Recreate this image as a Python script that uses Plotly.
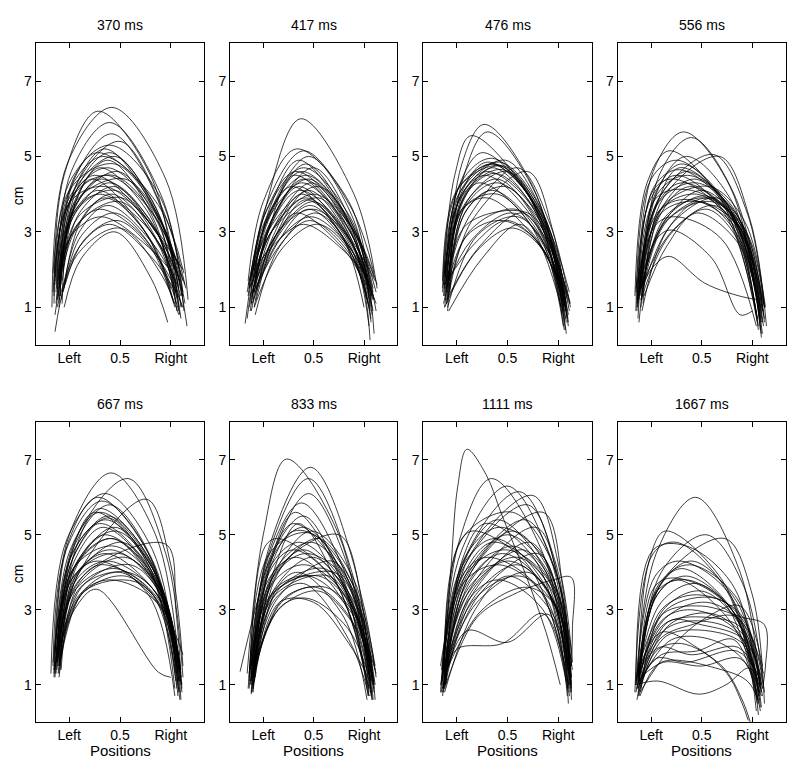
import plotly.graph_objects as go

# ---------------- data ----------------
TITLES = ["370 ms", "417 ms", "476 ms", "556 ms", "667 ms", "833 ms", "1111 ms", "1667 ms"]
XTICK_VALS = [0, 0.5, 1]
XTICK_TEXT = ["Left", "0.5", "Right"]
YTICK_VALS = [1, 3, 5, 7]
X_RANGE = [-0.33, 1.33]
Y_RANGE = [0, 8]

# each curve: flat list x0,y0, x1,y1, ... (start, rise, peak, fall, end)
P370 = [
    [-0.17,1.0, -0.02,4.8, 0.42,6.3, 0.95,4.4, 1.17,1.2],
    [-0.15,1.3, -0.05,4.5, 0.28,6.2, 0.80,4.5, 1.08,1.0],
    [-0.12,1.5, 0.02,4.6, 0.40,5.9, 0.90,4.0, 1.12,1.4],
    [-0.10,1.8, 0.05,4.4, 0.42,5.6, 0.88,3.8, 1.10,1.0],
    [-0.08,1.6, 0.08,4.3, 0.50,5.4, 0.92,3.6, 1.14,1.6],
    [-0.12,1.2, 0.03,4.0, 0.35,5.2, 0.85,3.5, 1.06,0.9],
    [-0.14,1.6, 0.00,3.9, 0.45,5.0, 0.90,3.3, 1.12,1.7],
    [-0.10,1.0, 0.05,3.8, 0.38,4.9, 0.82,3.4, 1.05,1.1],
    [-0.06,2.0, 0.08,3.9, 0.30,4.7, 0.78,3.5, 1.04,1.3],
    [-0.16,1.4, -0.03,3.6, 0.25,4.5, 0.80,3.2, 1.08,1.8],
    [-0.11,1.9, 0.02,3.5, 0.22,4.4, 0.75,3.0, 1.02,1.2],
    [-0.09,1.3, 0.06,3.7, 0.48,4.6, 0.93,3.0, 1.15,1.5],
    [-0.13,1.1, 0.04,3.4, 0.40,4.3, 0.86,3.0, 1.09,0.8],
    [-0.07,1.7, 0.10,3.5, 0.45,4.2, 0.88,2.9, 1.12,2.0],
    [-0.12,2.1, 0.00,3.3, 0.28,4.1, 0.72,3.1, 1.00,1.5],
    [-0.05,1.5, 0.12,3.3, 0.42,4.0, 0.85,2.8, 1.07,1.2],
    [-0.14,0.8, 0.05,3.0, 0.35,3.9, 0.80,2.8, 1.04,1.0],
    [-0.10,1.6, 0.08,3.2, 0.50,3.8, 0.90,2.6, 1.10,1.3],
    [-0.08,1.2, 0.10,3.0, 0.38,3.7, 0.82,2.7, 1.06,1.6],
    [-0.11,1.8, 0.06,3.1, 0.30,3.6, 0.75,2.8, 1.03,1.1],
    [-0.06,1.4, 0.12,2.9, 0.45,3.5, 0.86,2.4, 1.08,0.9],
    [-0.09,2.2, 0.05,3.0, 0.32,3.4, 0.78,2.6, 1.02,1.9],
    [-0.04,1.6, 0.15,2.8, 0.48,3.3, 0.90,2.2, 1.12,1.0],
    [-0.12,1.0, 0.10,2.6, 0.40,3.2, 0.82,2.3, 1.05,1.4],
    [-0.14,0.35, 0.08,2.4, 0.50,3.1, 0.90,1.9, 1.08,0.8],
    [-0.05,1.0, 0.12,2.3, 0.45,3.0, 0.80,1.8, 0.97,0.6],
    [-0.10,1.5, 0.05,3.6, 0.35,4.5, 0.84,3.4, 1.10,0.7],
    [-0.16,1.9, -0.02,4.0, 0.33,5.0, 0.88,3.7, 1.13,1.9],
    [-0.07,1.1, 0.07,4.1, 0.40,5.1, 0.86,3.6, 1.08,1.5],
    [-0.13,1.7, 0.03,4.2, 0.45,4.8, 0.92,3.2, 1.16,0.5],
    [-0.09,1.5, 0.06,3.8, 0.55,4.4, 0.95,3.0, 1.14,1.1],
    [-0.11,1.3, 0.04,3.5, 0.30,4.0, 0.74,3.2, 1.04,2.0],
    [-0.13,1.4, 0.02,3.9, 0.38,4.7, 0.87,3.4, 1.11,1.3],
    [-0.10,1.7, 0.06,3.7, 0.32,4.4, 0.80,3.3, 1.06,1.4],
    [-0.15,1.1, 0.00,4.3, 0.40,5.3, 0.90,3.9, 1.13,0.9],
    [-0.08,1.9, 0.08,3.6, 0.45,4.1, 0.88,2.9, 1.09,1.7],
    [-0.12,1.5, 0.04,4.4, 0.28,5.1, 0.78,4.0, 1.07,1.6],
    [-0.11,1.2, 0.09,3.4, 0.52,3.9, 0.92,2.5, 1.11,1.0],
    [-0.14,1.8, 0.01,3.8, 0.36,4.2, 0.84,3.1, 1.09,2.1],
    [-0.09,1.3, 0.05,4.0, 0.43,4.5, 0.89,3.2, 1.12,1.3],
]

P417 = [
    [-0.18,0.57, 0.02,3.6, 0.37,6.0, 0.90,4.0, 1.13,1.5],
    [-0.15,1.7, 0.00,3.8, 0.33,5.2, 0.85,3.8, 1.08,1.2],
    [-0.12,1.5, 0.03,3.7, 0.40,5.15, 0.88,3.6, 1.10,1.9],
    [-0.16,0.7, 0.05,3.4, 0.45,5.0, 0.90,3.3, 1.06,0.9],
    [-0.10,1.8, 0.06,3.6, 0.35,4.9, 0.82,3.4, 1.05,1.6],
    [-0.13,1.2, 0.05,3.3, 0.42,4.8, 0.86,3.2, 1.08,1.0],
    [-0.08,1.6, 0.10,3.4, 0.50,4.7, 0.92,3.0, 1.12,1.4],
    [-0.14,1.0, 0.06,3.1, 0.30,4.5, 0.80,3.3, 1.04,1.8],
    [-0.11,1.9, 0.08,3.3, 0.40,4.4, 0.84,3.0, 1.07,0.7],
    [-0.09,1.4, 0.12,3.2, 0.48,4.3, 0.90,2.8, 1.10,1.2],
    [-0.15,1.6, 0.04,3.0, 0.35,4.2, 0.82,2.9, 1.06,1.5],
    [-0.07,1.2, 0.14,3.0, 0.45,4.1, 0.88,2.7, 1.09,0.9],
    [-0.12,0.9, 0.10,2.9, 0.38,4.0, 0.80,2.8, 1.03,1.3],
    [-0.10,1.7, 0.08,3.0, 0.55,3.9, 0.92,2.6, 1.11,1.7],
    [-0.13,1.3, 0.12,2.8, 0.42,3.85, 0.85,2.7, 1.05,0.5],
    [-0.06,1.8, 0.15,3.0, 0.50,3.8, 0.90,2.6, 1.08,1.3],
    [-0.11,1.1, 0.14,2.7, 0.45,3.6, 0.84,2.6, 1.04,1.1],
    [-0.14,1.5, 0.10,2.8, 0.33,3.5, 0.78,2.6, 1.02,1.6],
    [-0.08,0.8, 0.16,2.6, 0.52,3.5, 0.90,2.4, 1.07,0.6],
    [-0.10,1.4, 0.18,2.7, 0.46,3.3, 0.86,2.4, 1.05,1.0],
    [-0.12,1.9, 0.12,2.7, 0.40,3.2, 0.80,2.5, 1.03,1.8],
    [-0.09,1.0, 0.20,2.6, 0.55,3.2, 0.92,2.2, 1.06,0.13],
    [-0.07,1.5, 0.15,2.9, 0.47,3.7, 0.88,2.5, 1.12,1.1],
    [-0.13,1.7, 0.07,3.5, 0.38,4.6, 0.86,3.3, 1.09,1.4],
    [-0.11,1.3, 0.09,3.2, 0.55,4.2, 0.95,2.8, 1.13,1.6],
    [-0.16,1.4, 0.02,3.3, 0.28,4.2, 0.76,3.0, 1.00,1.0],
    [-0.08,1.9, 0.06,3.5, 0.43,4.5, 0.90,3.0, 1.12,0.9],
    [-0.12,1.1, 0.08,3.0, 0.50,4.0, 0.92,2.9, 1.10,0.3],
    [-0.14,1.5, 0.04,3.6, 0.40,4.7, 0.86,3.4, 1.09,1.5],
    [-0.10,1.2, 0.08,3.2, 0.36,4.1, 0.82,3.0, 1.06,1.1],
    [-0.12,1.8, 0.06,3.4, 0.45,4.4, 0.88,3.1, 1.10,1.8],
    [-0.09,1.0, 0.12,2.9, 0.50,3.6, 0.90,2.6, 1.08,0.8],
    [-0.15,1.3, 0.02,3.5, 0.32,4.6, 0.80,3.4, 1.05,1.4],
    [-0.11,1.6, 0.10,3.1, 0.42,3.9, 0.86,2.8, 1.07,1.3],
    [-0.13,0.9, 0.08,3.3, 0.38,4.3, 0.84,3.1, 1.09,1.2],
    [-0.08,1.4, 0.16,2.8, 0.48,3.4, 0.88,2.5, 1.06,1.5],
]

P476 = [
    [-0.10,1.5, 0.05,4.8, 0.27,5.85, 0.75,4.2, 1.06,0.9],
    [-0.13,1.8, -0.02,4.5, 0.14,5.55, 0.70,4.0, 1.04,1.2],
    [-0.09,1.4, 0.06,4.4, 0.30,5.65, 0.78,4.0, 1.08,0.6],
    [-0.12,1.9, 0.02,4.2, 0.25,5.1, 0.72,3.9, 1.05,1.4],
    [-0.11,1.2, 0.04,4.0, 0.30,4.85, 0.75,3.8, 1.07,1.0],
    [-0.14,1.7, 0.00,4.1, 0.38,4.8, 0.80,3.6, 1.09,1.3],
    [-0.08,1.9, 0.08,4.0, 0.42,4.75, 0.84,3.4, 1.10,0.8],
    [-0.10,1.1, 0.06,3.8, 0.35,4.7, 0.78,3.5, 1.06,0.4],
    [-0.12,1.5, 0.04,3.9, 0.45,4.65, 0.86,3.2, 1.11,1.1],
    [-0.09,0.9, 0.10,3.8, 0.50,4.6, 0.88,3.0, 1.08,0.3],
    [-0.13,1.3, 0.03,3.9, 0.28,4.5, 0.74,3.4, 1.04,1.5],
    [-0.11,1.6, 0.07,3.7, 0.40,4.4, 0.82,3.1, 1.07,0.7],
    [-0.10,2.0, 0.05,3.8, 0.22,4.3, 0.70,3.3, 1.03,1.0],
    [-0.07,1.4, 0.10,3.6, 0.48,4.2, 0.86,3.0, 1.09,1.2],
    [-0.12,1.0, 0.08,3.5, 0.35,4.1, 0.80,3.0, 1.05,0.5],
    [-0.10,1.7, 0.12,3.4, 0.60,4.7, 0.92,3.2, 1.12,1.0],
    [-0.08,1.3, 0.15,3.3, 0.70,4.6, 0.95,3.0, 1.10,0.6],
    [-0.14,1.4, 0.05,3.6, 0.40,4.0, 0.80,2.9, 1.06,1.3],
    [-0.11,1.5, 0.15,2.8, 0.55,3.5, 0.88,2.6, 1.08,0.9],
    [-0.09,1.0, 0.20,2.9, 0.60,3.4, 0.90,2.5, 1.07,0.4],
    [-0.12,1.6, 0.18,2.7, 0.50,3.3, 0.86,2.5, 1.05,1.1],
    [-0.10,1.2, 0.22,2.6, 0.65,3.5, 0.92,2.4, 1.09,0.7],
    [-0.08,0.9, 0.25,2.3, 0.62,3.2, 0.90,2.3, 1.06,1.0],
    [-0.13,1.1, 0.10,2.9, 0.45,3.3, 0.84,2.6, 1.04,0.8],
    [-0.11,1.8, 0.06,3.6, 0.30,3.9, 0.72,3.0, 1.03,1.6],
    [-0.07,1.5, 0.08,4.1, 0.48,4.9, 0.88,3.3, 1.11,0.9],
    [-0.12,1.3, 0.04,4.3, 0.35,4.95, 0.82,3.6, 1.08,1.1],
    [-0.10,1.6, 0.10,3.2, 0.70,3.5, 0.96,2.4, 1.12,1.1],
    [-0.11,1.4, 0.04,4.1, 0.34,4.8, 0.80,3.6, 1.08,1.0],
    [-0.13,1.6, 0.02,4.0, 0.42,4.85, 0.85,3.5, 1.09,0.7],
    [-0.09,1.2, 0.07,3.9, 0.38,4.55, 0.82,3.4, 1.07,1.2],
    [-0.12,1.9, 0.05,4.0, 0.30,4.6, 0.76,3.6, 1.05,0.9],
    [-0.10,1.1, 0.12,3.0, 0.58,3.6, 0.90,2.7, 1.10,0.5],
    [-0.14,1.5, 0.03,4.2, 0.46,4.75, 0.87,3.3, 1.11,1.4],
    [-0.08,1.7, 0.09,3.7, 0.40,4.3, 0.84,3.2, 1.08,0.9],
    [-0.12,1.0, 0.20,2.5, 0.55,3.1, 0.88,2.4, 1.06,0.6],
]

P556 = [
    [-0.14,1.2, 0.02,4.6, 0.32,5.65, 0.78,4.2, 1.08,0.6],
    [-0.10,1.0, 0.08,4.5, 0.40,5.5, 0.82,4.0, 1.10,0.9],
    [-0.16,1.3, -0.04,4.3, 0.18,5.15, 0.70,3.8, 1.04,0.8],
    [-0.12,1.5, 0.10,4.0, 0.62,5.05, 0.95,3.5, 1.12,1.0],
    [-0.08,1.1, 0.12,3.9, 0.68,5.0, 0.98,3.3, 1.14,0.5],
    [-0.13,0.7, 0.04,4.0, 0.30,4.8, 0.78,3.6, 1.06,0.4],
    [-0.11,1.6, 0.06,3.8, 0.35,4.6, 0.80,3.5, 1.08,1.0],
    [-0.15,1.4, 0.00,3.9, 0.25,4.5, 0.76,3.4, 1.05,0.7],
    [-0.09,1.2, 0.10,3.6, 0.42,4.4, 0.84,3.4, 1.09,0.3],
    [-0.12,0.6, 0.08,3.4, 0.38,4.2, 0.82,3.3, 1.07,0.8],
    [-0.10,1.5, 0.14,3.3, 0.50,4.1, 0.88,3.2, 1.10,0.6],
    [-0.14,1.0, 0.06,3.5, 0.45,4.0, 0.86,3.1, 1.11,1.1],
    [-0.08,1.7, 0.16,3.4, 0.55,3.95, 0.90,3.0, 1.08,0.9],
    [-0.11,1.3, 0.12,3.2, 0.60,3.9, 0.92,2.9, 1.12,0.7],
    [-0.13,1.6, 0.05,3.7, 0.30,4.3, 0.78,3.5, 1.06,1.0],
    [-0.09,0.9, 0.15,3.0, 0.48,3.8, 0.88,2.8, 1.09,0.2],
    [-0.12,1.4, 0.20,3.0, 0.62,3.7, 0.92,2.8, 1.11,0.5],
    [-0.10,1.2, 0.18,2.9, 0.55,3.6, 0.90,2.6, 1.07,0.9],
    [-0.15,1.5, 0.05,3.2, 0.25,3.4, 0.70,2.8, 1.04,0.5],
    [-0.12,1.5, 0.05,2.8, 0.20,3.05, 0.60,2.3, 0.88,0.8, 1.00,0.9],
    [-0.10,1.5, 0.03,2.1, 0.18,2.35, 0.53,1.64, 0.90,1.28, 1.07,1.2],
    [-0.07,1.3, 0.15,2.6, 0.45,3.5, 0.86,2.7, 1.06,1.1],
    [-0.13,1.1, 0.08,4.2, 0.35,5.0, 0.80,3.8, 1.09,0.6],
    [-0.11,1.4, 0.04,3.6, 0.28,4.7, 0.76,3.7, 1.07,0.8],
    [-0.09,1.6, 0.12,3.7, 0.58,4.2, 0.92,3.3, 1.13,1.0],
    [-0.14,0.9, 0.02,4.1, 0.22,4.4, 0.72,3.5, 1.05,0.6],
    [-0.08,1.5, 0.20,3.2, 0.65,3.9, 0.96,2.9, 1.12,1.0],
    [-0.12,1.2, 0.10,3.6, 0.40,3.85, 0.84,3.1, 1.10,0.3],
    [-0.12,1.3, 0.06,4.0, 0.36,4.5, 0.82,3.6, 1.09,0.7],
    [-0.10,1.6, 0.08,3.8, 0.45,4.3, 0.86,3.4, 1.10,0.9],
    [-0.14,1.1, 0.03,4.2, 0.28,4.65, 0.76,3.6, 1.06,0.5],
    [-0.09,1.4, 0.14,3.4, 0.52,3.9, 0.90,3.2, 1.11,0.8],
    [-0.13,1.0, 0.05,3.9, 0.40,4.1, 0.84,3.3, 1.08,0.4],
    [-0.11,1.5, 0.10,3.5, 0.48,3.8, 0.88,3.1, 1.12,1.0],
    [-0.15,0.9, 0.00,4.4, 0.26,4.9, 0.74,3.7, 1.05,0.7],
    [-0.10,1.2, 0.16,3.3, 0.60,3.8, 0.93,3.0, 1.12,0.6],
]

P667 = [
    [-0.15,1.4, 0.00,5.0, 0.41,6.65, 0.85,5.0, 1.10,1.0],
    [-0.12,1.6, 0.05,4.8, 0.58,6.5, 0.95,4.5, 1.12,1.2],
    [-0.18,1.3, -0.02,4.9, 0.35,6.1, 0.82,4.6, 1.08,0.8],
    [-0.14,1.8, -0.01,4.8, 0.28,6.0, 0.78,4.5, 1.06,1.5],
    [-0.16,1.5, -0.03,4.6, 0.32,5.9, 0.80,4.4, 1.09,0.6],
    [-0.10,1.3, 0.05,4.7, 0.40,5.8, 0.84,4.2, 1.07,1.3],
    [-0.13,1.7, 0.02,4.5, 0.25,5.6, 0.76,4.3, 1.05,1.1],
    [-0.11,2.0, 0.04,4.4, 0.38,5.45, 0.82,4.0, 1.08,1.8],
    [-0.15,1.2, 0.00,4.3, 0.30,5.3, 0.78,4.1, 1.04,0.9],
    [-0.09,1.6, 0.08,4.2, 0.45,5.2, 0.88,3.8, 1.10,1.4],
    [-0.12,1.4, 0.05,4.1, 0.35,5.0, 0.85,3.8, 1.07,0.7],
    [-0.14,1.9, 0.02,4.0, 0.42,4.9, 0.86,3.6, 1.09,1.6],
    [-0.10,1.5, 0.08,3.9, 0.76,5.95, 1.00,4.2, 1.12,1.5],
    [-0.13,1.3, 0.10,3.8, 0.95,4.75, 1.05,3.0, 1.10,1.2],
    [-0.11,1.7, 0.06,3.9, 0.40,4.6, 0.88,3.6, 1.08,1.1],
    [-0.16,1.6, 0.00,3.7, 0.35,4.5, 0.84,3.5, 1.06,2.0],
    [-0.08,1.4, 0.10,3.7, 0.55,4.4, 0.92,3.4, 1.11,0.9],
    [-0.12,1.8, 0.06,3.6, 0.30,4.2, 0.80,3.5, 1.05,1.3],
    [-0.10,1.2, 0.12,3.6, 0.60,4.2, 0.94,3.2, 1.10,0.6],
    [-0.14,1.5, 0.05,3.5, 0.45,4.1, 0.90,3.2, 1.08,1.4],
    [-0.09,1.6, 0.14,3.5, 0.50,4.0, 0.92,3.0, 1.12,1.8],
    [-0.11,1.3, 0.12,3.4, 0.55,3.9, 0.90,3.1, 1.07,1.0],
    [-0.13,1.7, 0.10,3.4, 0.40,3.8, 0.86,3.2, 1.06,1.5],
    [-0.10,1.9, 0.15,3.5, 0.65,3.75, 0.95,2.9, 1.10,1.2],
    [-0.15,1.4, 0.05,3.0, 0.27,3.55, 0.88,1.33, 1.00,1.2],
    [-0.12,1.6, 0.04,4.4, 0.38,5.5, 0.84,4.1, 1.09,0.8],
    [-0.08,1.8, 0.10,4.0, 0.52,4.8, 0.90,3.6, 1.10,1.3],
    [-0.14,1.3, 0.02,3.8, 0.28,4.3, 0.78,3.4, 1.04,0.7],
    [-0.11,1.5, 0.08,4.3, 0.46,5.1, 0.88,3.8, 1.11,1.0],
    [-0.10,1.7, 0.06,4.6, 0.30,5.7, 0.78,4.4, 1.07,1.4],
    [-0.13,1.5, 0.03,4.5, 0.36,5.4, 0.82,4.1, 1.08,1.1],
    [-0.11,1.8, 0.06,4.2, 0.42,4.9, 0.86,3.7, 1.09,1.5],
    [-0.15,1.3, 0.01,4.6, 0.30,5.6, 0.79,4.3, 1.06,0.9],
    [-0.09,1.4, 0.09,4.0, 0.50,4.5, 0.90,3.4, 1.10,1.2],
    [-0.12,1.6, 0.07,3.8, 0.38,4.3, 0.84,3.5, 1.07,1.7],
    [-0.14,1.2, 0.04,4.1, 0.44,4.7, 0.88,3.6, 1.11,0.8],
    [-0.10,1.5, 0.11,3.6, 0.58,4.0, 0.92,3.2, 1.09,1.1],
    [-0.12,1.9, 0.05,4.3, 0.33,5.2, 0.80,4.0, 1.06,1.6],
]

P833 = [
    [-0.16,1.3, 0.00,5.0, 0.23,7.02, 0.75,5.0, 1.05,0.9],
    [-0.12,1.0, 0.05,4.6, 0.47,6.8, 0.90,4.2, 1.08,0.6],
    [-0.14,1.2, 0.04,4.4, 0.45,6.5, 0.88,4.0, 1.07,0.8],
    [-0.10,0.9, 0.08,4.3, 0.45,6.1, 0.86,4.0, 1.06,1.2],
    [-0.13,1.4, 0.05,4.4, 0.38,5.85, 0.84,3.8, 1.09,1.0],
    [-0.11,1.1, 0.06,4.2, 0.32,5.6, 0.80,3.6, 1.04,0.7],
    [-0.15,0.9, 0.03,4.1, 0.40,5.5, 0.82,3.5, 1.08,1.3],
    [-0.09,1.3, 0.10,4.0, 0.35,5.3, 0.78,3.4, 1.05,0.9],
    [-0.12,1.5, 0.08,4.2, 0.30,5.1, 0.60,4.8, 1.10,1.1],
    [-0.10,0.8, 0.12,4.0, 0.75,5.0, 0.98,3.3, 1.12,1.2],
    [-0.14,1.1, 0.06,4.5, 0.45,5.05, 0.90,3.6, 1.09,0.6],
    [-0.08,1.2, 0.15,4.0, 0.55,4.9, 0.92,3.5, 1.11,1.5],
    [-0.13,1.6, 0.02,4.7, 0.15,4.9, 0.70,3.8, 1.03,1.0],
    [-0.11,1.0, 0.10,3.8, 0.40,4.6, 0.86,3.3, 1.07,0.8],
    [-0.10,1.4, 0.12,3.6, 0.50,4.4, 0.88,3.2, 1.08,1.4],
    [-0.12,0.75, 0.14,3.5, 0.60,4.1, 0.94,3.0, 1.10,0.9],
    [-0.09,1.2, 0.10,3.5, 0.45,3.9, 0.88,2.9, 1.06,1.2],
    [-0.14,1.3, 0.08,3.4, 0.70,4.0, 0.95,3.0, 1.11,1.0],
    [-0.11,1.5, 0.12,3.3, 0.40,3.7, 0.85,2.2, 1.05,0.7],
    [-0.10,0.9, 0.16,3.2, 0.50,3.2, 0.85,2.1, 1.06,1.1],
    [-0.13,1.1, 0.15,3.0, 0.55,3.5, 0.90,2.6, 1.08,1.6],
    [-0.08,1.4, 0.20,3.3, 0.62,3.6, 0.92,2.8, 1.10,0.8],
    [-0.12,1.2, 0.18,3.1, 0.45,3.3, 0.84,2.5, 1.04,1.3],
    [-0.10,1.0, 0.14,3.6, 0.35,4.0, 0.80,2.8, 1.03,0.6],
    [-0.12,1.3, 0.08,3.8, 0.42,4.5, 0.82,3.8, 1.09,1.0],
    [-0.23,1.35, -0.08,3.0, 0.10,4.6, 0.30,5.3, 0.72,4.2, 1.05,0.7],
    [-0.09,1.1, 0.10,3.9, 0.48,5.1, 0.90,3.8, 1.11,0.6],
    [-0.11,0.8, 0.06,4.1, 0.36,4.8, 0.82,3.6, 1.07,1.1],
    [-0.13,1.4, 0.12,3.4, 0.65,3.9, 0.93,2.8, 1.12,1.3],
    [-0.12,1.1, 0.07,4.3, 0.40,5.2, 0.84,3.7, 1.07,0.9],
    [-0.10,1.3, 0.10,4.0, 0.48,4.8, 0.88,3.6, 1.09,1.2],
    [-0.14,0.9, 0.05,3.8, 0.33,4.4, 0.80,3.2, 1.05,0.8],
    [-0.11,1.2, 0.12,3.5, 0.55,3.9, 0.90,3.0, 1.10,1.0],
    [-0.13,1.0, 0.09,3.7, 0.42,4.2, 0.86,3.2, 1.08,0.6],
    [-0.09,1.4, 0.14,3.3, 0.68,4.3, 0.95,3.1, 1.11,1.4],
    [-0.12,0.8, 0.06,4.0, 0.30,4.6, 0.78,3.5, 1.06,1.1],
    [-0.10,1.2, 0.18,3.2, 0.52,3.6, 0.88,2.7, 1.07,0.7],
]

P1111 = [
    [-0.14,0.9, -0.06,4.0, 0.01,6.3, 0.10,7.28, 0.29,6.6, 0.44,5.56, 0.67,4.0, 0.88,2.4, 1.02,1.0],
    [-0.14,1.1, 0.02,4.8, 0.34,6.5, 0.85,4.5, 1.10,1.0],
    [-0.16,0.8, 0.05,4.6, 0.50,6.3, 0.92,4.4, 1.12,1.3],
    [-0.12,1.2, 0.10,4.5, 0.62,6.15, 0.98,4.2, 1.13,0.8],
    [-0.13,0.9, 0.12,4.4, 0.75,6.05, 1.02,4.0, 1.14,1.6],
    [-0.15,1.4, 0.08,4.2, 0.70,5.8, 1.00,3.8, 1.12,1.1],
    [-0.11,1.0, 0.14,4.0, 0.85,5.6, 1.05,3.5, 1.13,0.6],
    [-0.14,1.3, 0.00,4.6, 0.15,5.1, 0.70,4.2, 1.08,1.4],
    [-0.13,0.8, 0.06,4.2, 0.40,5.4, 0.88,4.0, 1.10,0.9],
    [-0.12,1.1, 0.10,4.0, 0.50,5.0, 0.90,4.0, 1.11,1.2],
    [-0.16,1.5, 0.04,3.8, 0.35,4.8, 0.85,3.9, 1.09,1.5],
    [-0.12,1.0, 0.12,3.7, 0.55,4.7, 0.95,3.6, 1.12,1.0],
    [-0.14,0.7, 0.08,3.6, 0.45,4.5, 0.92,3.4, 1.10,0.5],
    [-0.11,1.2, 0.15,3.5, 0.65,4.6, 1.00,3.4, 1.13,1.9],
    [-0.13,1.4, 0.10,3.4, 0.50,4.3, 0.90,3.5, 1.11,1.3],
    [-0.12,0.9, 0.16,3.3, 0.60,4.2, 0.95,3.2, 1.12,0.8],
    [-0.15,1.1, 0.05,3.9, 0.30,4.4, 0.80,3.6, 1.08,1.1],
    [-0.14,1.3, 0.20,3.2, 0.70,4.0, 1.00,3.0, 1.14,1.4],
    [-0.12,0.8, 0.18,3.0, 0.50,3.9, 0.92,3.0, 1.10,1.6],
    [-0.13,1.2, 0.25,3.0, 0.70,3.6, 1.00,3.0, 1.13,0.9],
    [-0.11,1.0, 0.20,2.8, 0.55,3.4, 0.95,3.8, 1.13,3.86, 1.14,2.5, 1.13,1.5],
    [-0.14,0.9, 0.10,2.44, 0.50,2.13, 0.90,2.88, 1.08,1.5],
    [-0.12,1.1, 0.00,1.95, 0.45,2.1, 0.85,2.9, 1.10,1.0],
    [-0.15,1.0, 0.08,4.4, 0.42,5.2, 0.88,4.3, 1.11,0.7],
    [-0.13,1.5, 0.12,4.0, 0.68,5.4, 1.00,3.8, 1.13,1.2],
    [-0.12,1.2, 0.05,4.9, 0.55,5.6, 0.95,4.2, 1.12,1.0],
    [-0.16,1.0, 0.14,3.6, 0.78,5.2, 1.03,3.5, 1.13,1.5],
    [-0.14,0.8, 0.10,3.2, 0.40,3.8, 0.85,3.0, 1.09,0.9],
    [-0.11,1.3, 0.22,3.4, 0.80,4.5, 1.02,3.2, 1.12,1.1],
    [-0.13,1.0, 0.08,3.9, 0.48,4.6, 0.90,3.8, 1.11,1.1],
    [-0.12,1.2, 0.12,3.6, 0.60,4.4, 0.96,3.4, 1.12,0.9],
    [-0.15,0.8, 0.04,4.1, 0.38,4.9, 0.86,3.7, 1.10,1.3],
    [-0.11,1.1, 0.15,3.4, 0.72,4.8, 1.01,3.3, 1.13,1.0],
    [-0.14,1.3, 0.06,3.7, 0.42,4.2, 0.88,3.3, 1.09,0.7],
    [-0.12,0.9, 0.10,3.8, 0.55,5.1, 0.94,3.9, 1.12,1.4],
    [-0.13,1.4, 0.18,3.3, 0.62,3.9, 0.97,3.1, 1.13,1.2],
    [-0.11,1.0, 0.05,4.3, 0.28,5.3, 0.78,4.3, 1.10,0.8],
]

P1667 = [
    [-0.15,1.0, 0.05,4.5, 0.44,6.0, 0.88,4.0, 1.08,0.8],
    [-0.13,1.2, -0.02,4.3, 0.14,5.1, 0.70,3.8, 1.06,1.0],
    [-0.16,0.8, 0.02,4.5, 0.25,4.8, 0.75,3.5, 1.05,0.6],
    [-0.12,1.1, 0.10,4.0, 0.55,5.0, 0.92,3.6, 1.10,1.2],
    [-0.14,0.9, 0.12,3.8, 0.73,4.9, 1.00,3.4, 1.12,0.5],
    [-0.11,1.3, 0.08,3.6, 0.40,4.3, 0.85,3.2, 1.08,1.0],
    [-0.15,1.0, 0.05,3.5, 0.30,4.1, 0.80,3.0, 1.07,0.7],
    [-0.13,0.7, 0.06,3.4, 0.35,3.9, 0.82,2.9, 1.04,0.3],
    [-0.12,1.2, 0.04,3.3, 0.25,3.8, 0.75,2.8, 1.06,1.1],
    [-0.14,1.1, 0.10,3.2, 0.45,3.7, 0.88,2.7, 1.09,0.8],
    [-0.10,0.9, 0.12,3.0, 0.50,3.5, 0.90,2.5, 1.08,0.4],
    [-0.13,1.3, 0.15,2.8, 0.55,3.2, 0.92,2.6, 1.11,1.3],
    [-0.15,0.8, 0.10,2.7, 0.40,3.0, 0.86,2.4, 1.07,0.6],
    [-0.12,1.0, 0.18,2.6, 0.60,2.9, 0.95,2.2, 1.10,0.9],
    [-0.11,1.4, 0.15,2.5, 0.50,2.7, 0.88,2.3, 1.06,0.2],
    [-0.14,0.6, 0.08,2.2, 0.40,2.6, 0.85,2.8, 1.08,1.0],
    [-0.12,1.1, 0.10,1.8, 0.45,1.9, 0.82,2.2, 1.05,0.5],
    [-0.13,0.9, 0.05,1.7, 0.35,1.6, 0.85,1.9, 1.07,1.2],
    [-0.10,1.2, 0.12,1.6, 0.50,1.5, 0.88,1.7, 1.09,0.7],
    [-0.15,1.0, 0.07,1.1, 0.47,0.75, 0.74,1.0, 0.97,1.45, 1.08,0.9],
    [-0.12,0.7, 0.05,1.9, 0.30,2.1, 0.70,1.5, 0.90,0.6, 0.98,0.0],
    [-0.14,1.3, 0.10,2.4, 0.45,2.0, 0.75,1.3, 0.90,0.5, 0.96,0.05],
    [-0.11,0.8, 0.20,2.0, 0.55,2.8, 0.88,3.1, 1.10,1.5],
    [-0.13,1.2, 0.08,3.7, 0.38,4.2, 0.85,3.3, 1.08,0.9],
    [-0.12,1.0, 0.03,3.6, 0.22,3.85, 0.72,3.2, 1.05,0.6],
    [-0.14,0.9, 0.15,3.0, 0.65,3.3, 0.96,2.5, 1.12,0.8],
    [-0.10,1.1, 0.20,2.2, 0.60,2.2, 0.93,1.6, 1.08,0.3],
    [-0.13,1.4, 0.12,2.9, 0.50,3.1, 0.90,2.8, 1.12,2.6, 1.13,1.5, 1.10,0.9],
    [-0.11,0.7, 0.10,1.6, 0.70,1.4, 0.95,1.1, 1.06,0.6],
    [-0.13,1.1, 0.06,3.5, 0.35,3.8, 0.80,3.0, 1.07,0.8],
    [-0.12,0.9, 0.10,3.0, 0.45,3.4, 0.88,2.9, 1.09,1.0],
    [-0.14,1.2, 0.04,3.9, 0.28,4.3, 0.78,3.4, 1.06,0.5],
    [-0.11,1.0, 0.12,2.6, 0.55,2.8, 0.90,2.5, 1.10,0.7],
    [-0.13,1.3, 0.08,2.0, 0.40,1.8, 0.86,2.0, 1.08,1.1],
    [-0.12,0.8, 0.15,2.3, 0.65,2.4, 0.94,2.0, 1.09,0.4],
    [-0.15,1.0, 0.02,4.6, 0.35,4.7, 0.82,3.6, 1.06,0.7],
    [-0.10,1.2, 0.18,2.7, 0.50,2.6, 0.92,2.2, 1.11,1.0],
]

PANELS = [P370, P417, P476, P556, P667, P833, P1111, P1667]

# ---------------- layout geometry (reference page pixels) ----------------
OFF = 8                      # default body margin of the html page
W, H = 800 - 2 * OFF, 779 - 2 * OFF
COL_PX = [(35.7, 204.3), (230.0, 397.3), (423.3, 591.7), (617.7, 785.7)]
ROW_PX = [(43.3, 345.0), (422.3, 722.3)]


def fx(px):
    return (px - OFF) / W


def fy(py):
    return 1 - (py - OFF) / H


FONT = "Liberation Sans, Arial, sans-serif"
fig = go.Figure()

annotations = []
for i, curves in enumerate(PANELS):
    r, c = divmod(i, 4)
    n = i + 1
    xa = "x" if n == 1 else f"x{n}"
    ya = "y" if n == 1 else f"y{n}"
    for crv in curves:
        fig.add_trace(go.Scatter(
            x=crv[0::2], y=crv[1::2], mode="lines",
            line=dict(color="rgba(0,0,0,0.85)", width=0.9, shape="spline", smoothing=1.0),
            xaxis=xa, yaxis=ya, showlegend=False, hoverinfo="skip"))
    x0, x1 = COL_PX[c]
    y0, y1 = ROW_PX[r]
    axis_common = dict(showline=True, linecolor="black", linewidth=1, mirror="ticks",
                       ticks="inside", ticklen=5, tickcolor="black", tickwidth=1,
                       showgrid=False, zeroline=False, automargin=False,
                       tickfont=dict(family=FONT, size=14, color="black"))
    fig.layout[f"xaxis{'' if n == 1 else n}"] = dict(
        domain=[fx(x0), fx(x1)], anchor=ya, range=X_RANGE,
        tickmode="array", tickvals=XTICK_VALS, ticktext=XTICK_TEXT, **axis_common)
    fig.layout[f"yaxis{'' if n == 1 else n}"] = dict(
        domain=[fy(y1), fy(y0)], anchor=xa, range=Y_RANGE,
        tickmode="array", tickvals=YTICK_VALS, **axis_common)
    annotations.append(dict(text=TITLES[i], x=fx((x0 + x1) / 2), y=fy(y0 - 18),
                            xref="paper", yref="paper", showarrow=False,
                            xanchor="center", yanchor="middle",
                            font=dict(family=FONT, size=14, color="black")))
    if r == 1:
        annotations.append(dict(text="Positions", x=fx((x0 + x1) / 2), y=fy(750),
                                xref="paper", yref="paper", showarrow=False,
                                xanchor="center", yanchor="middle",
                                font=dict(family=FONT, size=15, color="black")))
    if c == 0:
        annotations.append(dict(text="cm", x=0, y=fy((y0 + y1) / 2 + 2),
                                xref="paper", yref="paper", showarrow=False, textangle=-90,
                                xanchor="left", yanchor="middle",
                                font=dict(family=FONT, size=14, color="black")))

fig.update_layout(width=W, height=H, margin=dict(l=0, r=0, t=0, b=0),
                  paper_bgcolor="white", plot_bgcolor="white",
                  annotations=annotations, showlegend=False)

fig.write_html("out.html")
